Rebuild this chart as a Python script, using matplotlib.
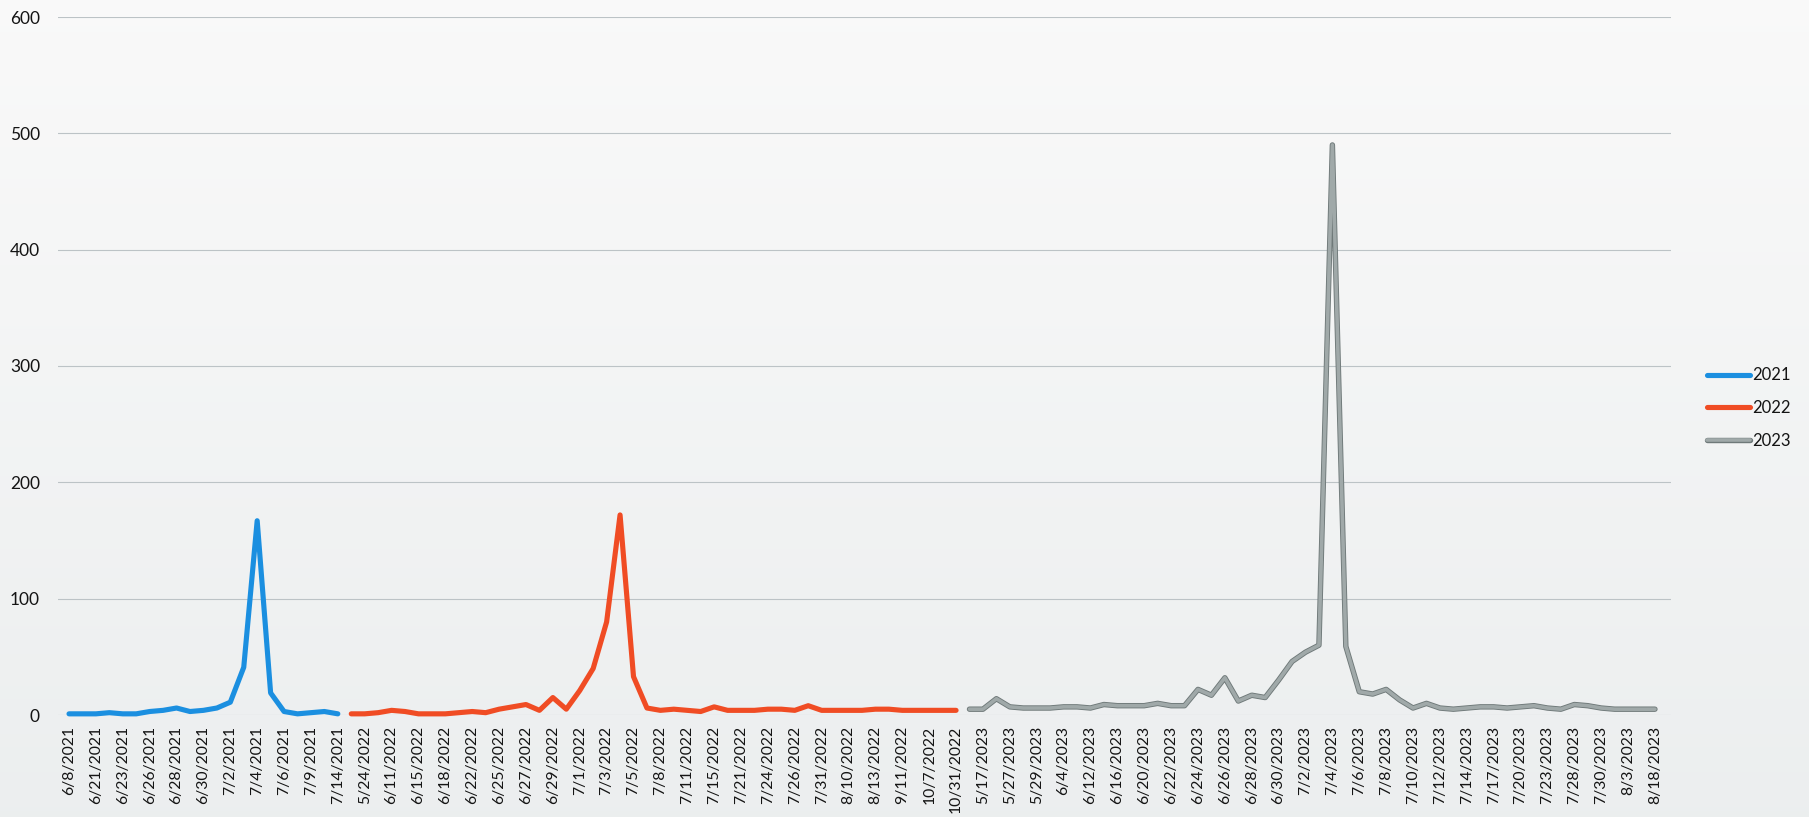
import numpy as np
import matplotlib
matplotlib.use("Agg")
import matplotlib.pyplot as plt
import matplotlib.patheffects as pe

# ---- data -------------------------------------------------------------
labels_2021 = ['6/8/2021', '6/21/2021', '6/23/2021', '6/26/2021', '6/28/2021', '6/30/2021',
               '7/2/2021', '7/4/2021', '7/6/2021', '7/9/2021', '7/14/2021']
labels_2022 = ['5/24/2022', '6/11/2022', '6/15/2022', '6/18/2022', '6/22/2022', '6/25/2022',
               '6/27/2022', '6/29/2022', '7/1/2022', '7/3/2022', '7/5/2022', '7/8/2022',
               '7/11/2022', '7/15/2022', '7/21/2022', '7/24/2022', '7/26/2022', '7/31/2022',
               '8/10/2022', '8/13/2022', '9/11/2022', '10/7/2022', '10/31/2022']
labels_2023 = ['5/17/2023', '5/27/2023', '5/29/2023', '6/4/2023', '6/12/2023', '6/16/2023',
               '6/20/2023', '6/22/2023', '6/24/2023', '6/26/2023', '6/28/2023', '6/30/2023',
               '7/2/2023', '7/4/2023', '7/6/2023', '7/8/2023', '7/10/2023', '7/12/2023',
               '7/14/2023', '7/17/2023', '7/20/2023', '7/23/2023', '7/28/2023', '7/30/2023',
               '8/3/2023', '8/18/2023']

values_2021 = [1, 1, 1, 2, 1, 1, 3, 4, 6, 3, 4, 6, 11, 41, 167, 19, 3, 1, 2, 3, 1]
values_2022 = [1, 1, 2, 4, 3, 1, 1, 1, 2, 3, 2, 5, 7, 9, 4, 15, 5, 21, 40, 80, 172, 33,
               6, 4, 5, 4, 3, 7, 4, 4, 4, 5, 5, 4, 8, 4, 4, 4, 4, 5, 5, 4, 4, 4, 4, 4]
values_2023 = [5, 5, 14, 7, 6, 6, 6, 7, 7, 6, 9, 8, 8, 8, 10, 8, 8, 22, 17, 32, 12, 17,
               15, 30, 46, 54, 60, 490, 59, 20, 18, 22, 13, 6, 10, 6, 5, 6, 7, 7, 6, 7,
               8, 6, 5, 9, 8, 6, 5, 5, 5, 5]

series_names = ['2021', '2022', '2023']
series_colors = ['#1b8fe0', '#f04c24', '#a0a9a9']

# every other category carries a label
tick_labels = labels_2021 + labels_2022 + labels_2023
n_categories = 2 * len(tick_labels) - 1          # 119 categories
start_2021 = 0
start_2022 = start_2021 + len(values_2021)
start_2023 = start_2022 + len(values_2022)

# ---- figure -----------------------------------------------------------
plt.rcParams['font.family'] = ['Lato', 'DejaVu Sans']
W, H = 1809, 817
fig = plt.figure(figsize=(W / 100, H / 100), dpi=100, facecolor='#f3f4f4')

# subtle paper-like background: whiter at the top, greyer at the bottom
bg = fig.add_axes([0, 0, 1, 1], zorder=-10)
grad = np.linspace(0, 1, 256).reshape(-1, 1)
top = np.array([0.978, 0.978, 0.978])
bot = np.array([0.925, 0.935, 0.937])
img = top[None, None, :] * (1 - grad[:, :, None]) + bot[None, None, :] * grad[:, :, None]
bg.imshow(img, aspect='auto', extent=[0, 1, 0, 1], origin='upper')
bg.set_axis_off()

ax = fig.add_axes([58 / W, 1 - 715 / H, (1671 - 58) / W, (715 - 17) / H])
ax.set_facecolor('none')

for y in range(0, 601, 100):
    ax.axhline(y, color='#bcc3c6', lw=0.8, zorder=1)

series = [(start_2021, values_2021), (start_2022, values_2022), (start_2023, values_2023)]
handles = []
for (start, vals), name, col in zip(series, series_names, series_colors):
    x = np.arange(start, start + len(vals))
    if name == '2023':
        h, = ax.plot(x, vals, color=col, lw=2.6, solid_joinstyle='round',
                     solid_capstyle='round', clip_on=False, zorder=3, label=name,
                     path_effects=[pe.Stroke(linewidth=3.9, foreground='#6f7979'), pe.Normal()])
    else:
        h, = ax.plot(x, vals, color=col, lw=3.7, solid_joinstyle='round',
                     solid_capstyle='round', clip_on=False, zorder=3, label=name)
    handles.append(h)

xmin = -0.82
ax.set_xlim(xmin, xmin + (1671 - 58) / 13.44)
ax.set_ylim(0, 600)
ax.set_yticks(range(0, 601, 100))
ax.set_xticks(np.arange(0, n_categories, 2))
ax.set_xticklabels(tick_labels, rotation=90)
ax.tick_params(axis='x', length=0, pad=8, labelsize=11.3, labelcolor='#141414')
ax.tick_params(axis='y', length=0, pad=13, labelsize=12.5, labelcolor='#141414')
for s in ax.spines.values():
    s.set_visible(False)

leg = fig.legend(handles=handles, labels=series_names, loc='center left',
                 bbox_to_anchor=(1700 / W, 1 - 408 / H), frameon=False,
                 fontsize=12, handlelength=2.6, handletextpad=0.15, labelspacing=1.0,
                 borderaxespad=0)
for t in leg.get_texts():
    t.set_color('#141414')

fig.savefig('out.png', dpi=100)
